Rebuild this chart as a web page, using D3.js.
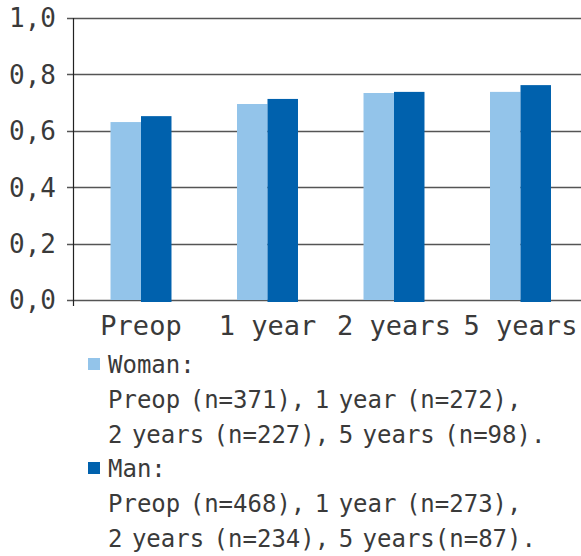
<!DOCTYPE html>
<html>
<head>
<meta charset="utf-8">
<script src="https://cdn.jsdelivr.net/npm/d3@7"></script>
<style>
  html, body { margin: 0; padding: 0; background: #fff; }
  svg { display: block; }
  text { font-family: "DejaVu Sans Mono", "Liberation Mono", monospace; fill: #3a3a3a; }
</style>
</head>
<body>
<svg id="chart" width="581" height="556"></svg>
<script>
// Mean scores by follow-up point, women vs men
const categories = ["Preop", "1 year", "2 years", "5 years"];
const series = ["Woman", "Man"];
const womanValues = [0.631, 0.695, 0.734, 0.738];
const manValues = [0.652, 0.713, 0.738, 0.762];
const yTicks = [0, 0.2, 0.4, 0.6, 0.8, 1.0];
const yTickLabels = ["0,0", "0,2", "0,4", "0,6", "0,8", "1,0"];
const legendLines = {
  Woman: ["Woman:", "Preop (n=371), 1 year (n=272),", "2 years (n=227), 5 years (n=98)."],
  Man: ["Man:", "Preop (n=468), 1 year (n=273),", "2 years (n=234), 5 years(n=87)."]
};
const colors = { Woman: "#93c4ea", Man: "#0061ad" };

const svg = d3.select("#chart");
const W = 581;
const plot = { left: 73, top: 18, bottom: 300 };

const y = d3.scaleLinear().domain([0, 1]).range([plot.bottom, plot.top]);
const x0 = d3.scaleBand()
  .domain(categories)
  .range([77.75, 583.75])
  .paddingInner(0.518)
  .paddingOuter(0.259);
const x1 = d3.scaleBand().domain(series).range([0, x0.bandwidth()]);

// Horizontal gridlines with small ticks to the left of the axis
svg.append("g")
  .selectAll("line")
  .data(yTicks)
  .join("line")
  .attr("x1", plot.left - 6)
  .attr("x2", W)
  .attr("y1", d => Math.round(y(d)) + 0.5)
  .attr("y2", d => Math.round(y(d)) + 0.5)
  .attr("stroke", "#555")
  .attr("stroke-width", 1.3);

// Y tick labels
svg.append("g")
  .selectAll("text")
  .data(yTicks)
  .join("text")
  .attr("x", 56)
  .attr("y", d => y(d))
  .attr("dy", "0.36em")
  .attr("text-anchor", "end")
  .attr("font-size", 26)
  .text((d, i) => yTickLabels[i]);

// Bars
const rows = categories.map((c, i) => ({ cat: c, Woman: womanValues[i], Man: manValues[i] }));
svg.append("g")
  .selectAll("g")
  .data(rows)
  .join("g")
  .attr("transform", d => `translate(${x0(d.cat)},0)`)
  .selectAll("rect")
  .data(d => series.map(s => ({ s, v: d[s] })))
  .join("rect")
  .attr("x", d => x1(d.s))
  .attr("width", x1.bandwidth())
  .attr("y", d => y(d.v))
  .attr("height", d => y(0) - y(d.v) + (d.s === "Man" ? 2 : 0))
  .attr("fill", d => colors[d.s]);

// Vertical axis line
svg.append("line")
  .attr("x1", plot.left + 0.5)
  .attr("x2", plot.left + 0.5)
  .attr("y1", plot.top)
  .attr("y2", plot.bottom + 6)
  .attr("stroke", "#222")
  .attr("stroke-width", 1.2);

// Category labels
svg.append("g")
  .selectAll("text")
  .data(categories)
  .join("text")
  .attr("x", d => x0(d) + x0.bandwidth() / 2)
  .attr("y", 335)
  .attr("text-anchor", "middle")
  .attr("font-size", 27)
  .text(d => d);

// Legend
const legend = svg.append("g");
const blockTop = { Woman: 358, Man: 462 };
series.forEach(s => {
  legend.append("rect")
    .attr("x", 88)
    .attr("y", blockTop[s])
    .attr("width", 12)
    .attr("height", 12)
    .attr("fill", colors[s]);
  legend.append("g")
    .selectAll("text")
    .data(legendLines[s])
    .join("text")
    .attr("x", 108)
    .attr("y", (d, i) => blockTop[s] + 15 + i * 35)
    .attr("font-size", 24)
    .attr("word-spacing", -5)
    .text(d => d);
});
</script>
</body>
</html>
